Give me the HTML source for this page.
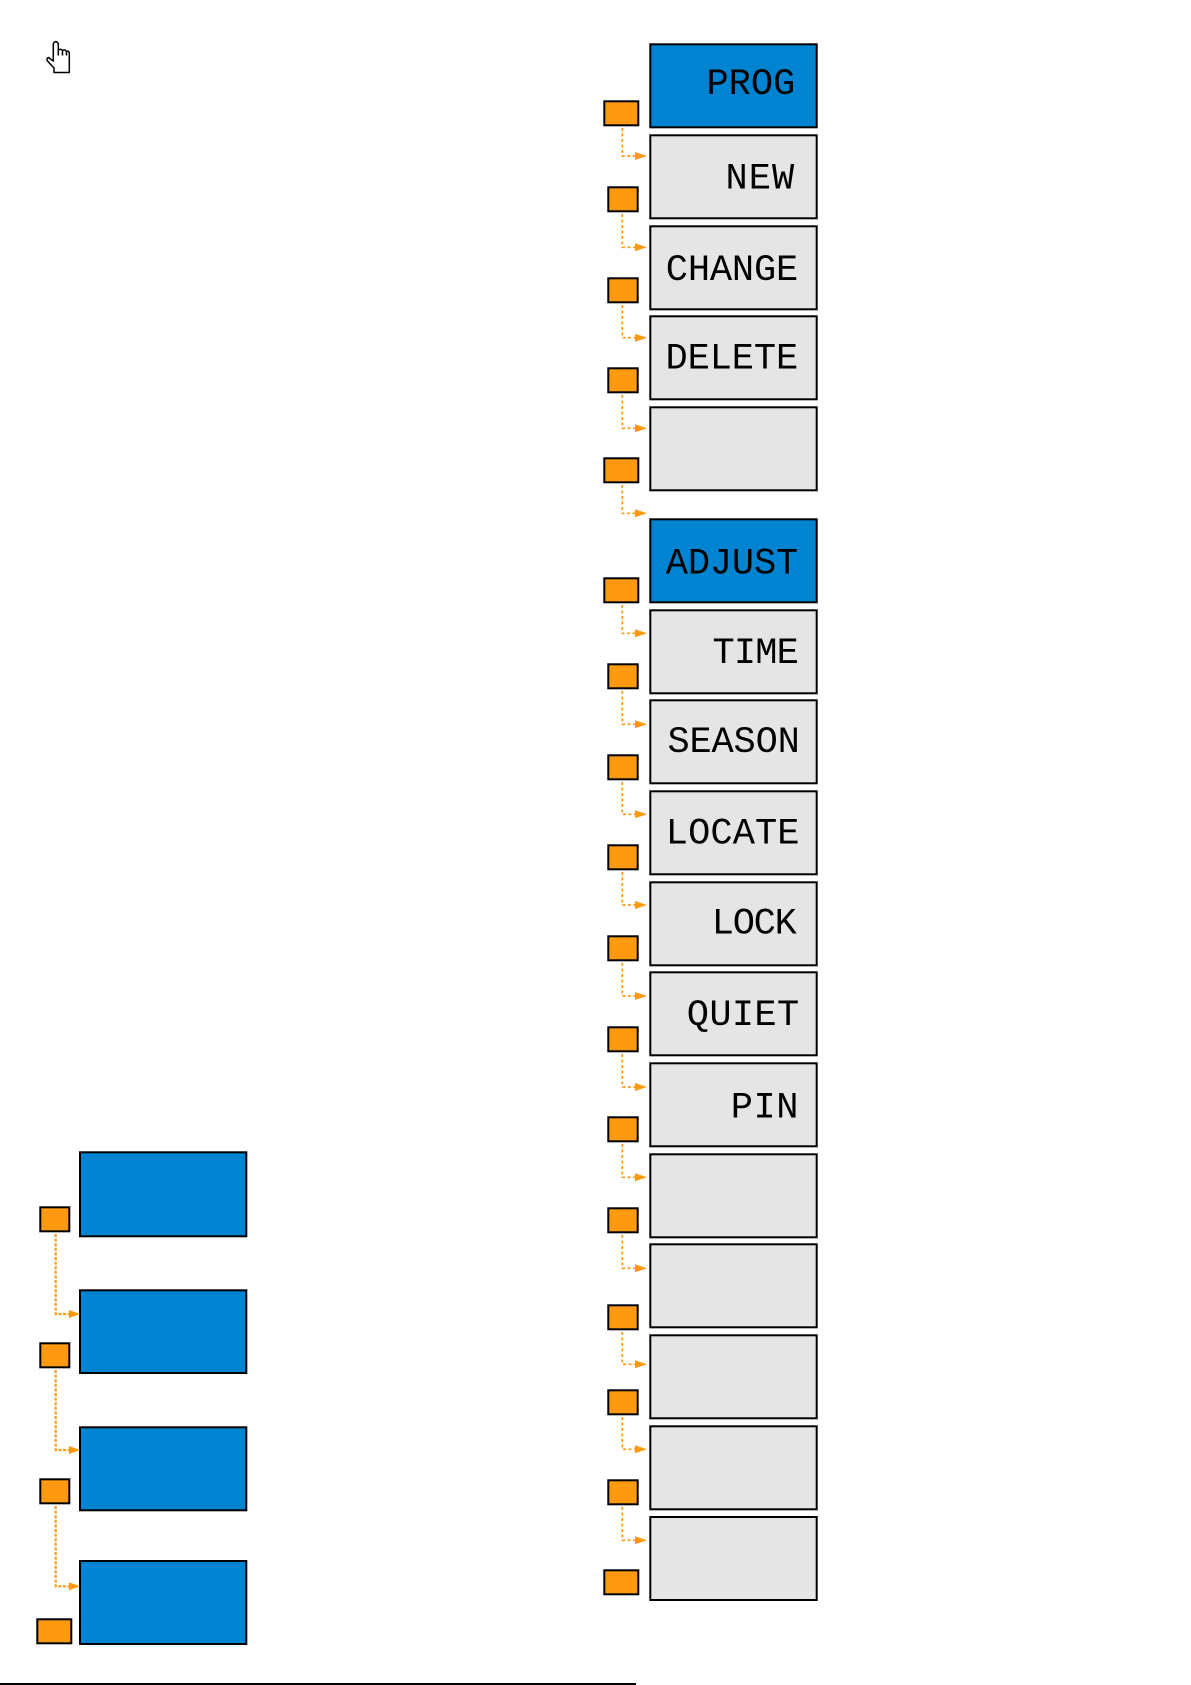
<!DOCTYPE html>
<html>
<head>
<meta charset="utf-8">
<style>
  html,body{margin:0;padding:0;background:#fff;}
  body{width:1191px;height:1685px;overflow:hidden;}
  svg{display:block;}
  .lcd{font-family:"Liberation Mono","DejaVu Sans Mono",monospace;font-size:37px;fill:#000;}
</style>
</head>
<body>
<svg width="1191" height="1685" viewBox="0 0 1191 1685" xmlns="http://www.w3.org/2000/svg">

  <!-- hand cursor -->
  <g fill="#fff" stroke="#000" stroke-width="1.5" stroke-linejoin="round">
    <path d="M54,72.5 L54,68 L47.5,61 Q46,58.5 48.5,57.5 L53.3,61 L53.3,43.5 Q55.8,39.8 58.3,43.5 L58.3,50.5 Q60.4,48 62.5,50.5 Q64.5,49 66.5,51.2 Q69.3,50.5 69.3,53.5 L69.3,72.5 Z"/>
    <path d="M62.5,50.5 L62.5,55.5 M66.5,51.2 L66.5,55.5 M58.3,50.5 L58.3,55.5" fill="none"/>
  </g>

  <!-- ===== Right column boxes ===== -->
  <g stroke="#000" stroke-width="2">
    <rect x="650.3" y="44.3" width="166.4" height="83" fill="#0083D0"/>
    <rect x="650.3" y="135.3" width="166.4" height="83" fill="#E5E5E5"/>
    <rect x="650.3" y="226.3" width="166.4" height="83" fill="#E5E5E5"/>
    <rect x="650.3" y="316.3" width="166.4" height="83" fill="#E5E5E5"/>
    <rect x="650.3" y="407.3" width="166.4" height="83" fill="#E5E5E5"/>
    <rect x="650.3" y="519.3" width="166.4" height="83" fill="#0083D0"/>
    <rect x="650.3" y="610.3" width="166.4" height="83" fill="#E5E5E5"/>
    <rect x="650.3" y="700.3" width="166.4" height="83" fill="#E5E5E5"/>
    <rect x="650.3" y="791.3" width="166.4" height="83" fill="#E5E5E5"/>
    <rect x="650.3" y="882.3" width="166.4" height="83" fill="#E5E5E5"/>
    <rect x="650.3" y="972.3" width="166.4" height="83" fill="#E5E5E5"/>
    <rect x="650.3" y="1063.3" width="166.4" height="83" fill="#E5E5E5"/>
    <rect x="650.3" y="1154.3" width="166.4" height="83" fill="#E5E5E5"/>
    <rect x="650.3" y="1244.3" width="166.4" height="83" fill="#E5E5E5"/>
    <rect x="650.3" y="1335.3" width="166.4" height="83" fill="#E5E5E5"/>
    <rect x="650.3" y="1426.3" width="166.4" height="83" fill="#E5E5E5"/>
    <rect x="650.3" y="1517" width="166.4" height="83" fill="#E5E5E5"/>
  </g>

  <!-- LCD labels -->
  <g class="lcd">
    <text x="706.5" y="94" textLength="88.7" lengthAdjust="spacing">PROG</text>
    <text x="725.5" y="188.3" textLength="68.7" lengthAdjust="spacing">NEW</text>
    <text x="665.8" y="280" textLength="132.4" lengthAdjust="spacing">CHANGE</text>
    <text x="665.5" y="368.7" textLength="132.7" lengthAdjust="spacing">DELETE</text>
    <text x="665.8" y="573.3" textLength="132.4" lengthAdjust="spacing">ADJUST</text>
    <text x="712.5" y="663" textLength="86.3" lengthAdjust="spacing">TIME</text>
    <text x="667.5" y="752" textLength="132.3" lengthAdjust="spacing">SEASON</text>
    <text x="665.8" y="843.7" textLength="133.7" lengthAdjust="spacing">LOCATE</text>
    <text x="711.8" y="933.5" textLength="85" lengthAdjust="spacing">LOCK</text>
    <text x="686.8" y="1025" textLength="112.4" lengthAdjust="spacing">QUIET</text>
    <text x="730.8" y="1117.3" textLength="67.7" lengthAdjust="spacing">PIN</text>
  </g>

  <!-- Right column connectors -->
  <g fill="none" stroke="#FF9912" stroke-width="1.7" stroke-dasharray="3,2.5">
    <path d="M622.3,128 V156 H636"/>
    <path d="M622.3,214 V247.3 H636"/>
    <path d="M622.3,305 V337.7 H636"/>
    <path d="M622.3,395 V428.3 H636"/>
    <path d="M622.3,485 V513.3 H636"/>
    <path d="M622.3,605 V633.3 H636"/>
    <path d="M622.3,691 V724.3 H636"/>
    <path d="M622.3,782 V814.3 H636"/>
    <path d="M622.3,872 V905 H636"/>
    <path d="M622.3,963 V996 H636"/>
    <path d="M622.3,1054 V1087 H636"/>
    <path d="M622.3,1144 V1177.3 H636"/>
    <path d="M622.3,1235 V1268.3 H636"/>
    <path d="M622.3,1332 V1364.3 H636"/>
    <path d="M622.3,1417 V1449.3 H636"/>
    <path d="M622.3,1507 V1540.3 H636"/>
  </g>
  <g fill="#FF9912">
    <polygon points="635,152 647,156 635,160"/>
    <polygon points="635,243.3 647,247.3 635,251.3"/>
    <polygon points="635,333.7 647,337.7 635,341.7"/>
    <polygon points="635,424.3 647,428.3 635,432.3"/>
    <polygon points="635,509.3 647,513.3 635,517.3"/>
    <polygon points="635,629.3 647,633.3 635,637.3"/>
    <polygon points="635,720.3 647,724.3 635,728.3"/>
    <polygon points="635,810.3 647,814.3 635,818.3"/>
    <polygon points="635,901 647,905 635,909"/>
    <polygon points="635,992 647,996 635,1000"/>
    <polygon points="635,1083 647,1087 635,1091"/>
    <polygon points="635,1173.3 647,1177.3 635,1181.3"/>
    <polygon points="635,1264.3 647,1268.3 635,1272.3"/>
    <polygon points="635,1360.3 647,1364.3 635,1368.3"/>
    <polygon points="635,1445.3 647,1449.3 635,1453.3"/>
    <polygon points="635,1536.3 647,1540.3 635,1544.3"/>
  </g>

  <!-- Right column orange boxes -->
  <g fill="#FF9912" stroke="#000" stroke-width="2">
    <rect x="604.3" y="101.3" width="34" height="24"/>
    <rect x="608.3" y="187.3" width="29.4" height="24"/>
    <rect x="608.3" y="278.3" width="29.4" height="24"/>
    <rect x="608.3" y="368.3" width="29.4" height="24"/>
    <rect x="604.3" y="458.3" width="34" height="24"/>
    <rect x="604.3" y="578.3" width="34" height="24"/>
    <rect x="608.3" y="664.3" width="29.4" height="24"/>
    <rect x="608.3" y="755.3" width="29.4" height="24"/>
    <rect x="608.3" y="845.3" width="29.4" height="24"/>
    <rect x="608.3" y="936.3" width="29.4" height="24"/>
    <rect x="608.3" y="1027.3" width="29.4" height="24"/>
    <rect x="608.3" y="1117.3" width="29.4" height="24"/>
    <rect x="608.3" y="1208.3" width="29.4" height="24"/>
    <rect x="608.3" y="1305.3" width="29.4" height="24"/>
    <rect x="608.3" y="1390.3" width="29.4" height="24"/>
    <rect x="608.3" y="1480.3" width="29.4" height="24"/>
    <rect x="604.3" y="1570.3" width="34" height="24"/>
  </g>

  <!-- ===== Left column ===== -->
  <g fill="#0083D0" stroke="#000" stroke-width="2">
    <rect x="80" y="1152.3" width="166.3" height="84"/>
    <rect x="80" y="1290.3" width="166.3" height="82.7"/>
    <rect x="80" y="1427.3" width="166.3" height="83"/>
    <rect x="80" y="1561" width="166.3" height="83"/>
  </g>

  <g fill="none" stroke="#FF9912" stroke-width="2.2" stroke-dasharray="3,1.6">
    <path d="M55.7,1234 V1314 H70"/>
    <path d="M55.7,1370 V1450 H70"/>
    <path d="M55.7,1506 V1586.3 H70"/>
  </g>
  <g fill="#FF9912">
    <polygon points="69,1310 80,1314 69,1318"/>
    <polygon points="69,1446 80,1450 69,1454"/>
    <polygon points="69,1582.3 80,1586.3 69,1590.3"/>
  </g>

  <g fill="#FF9912" stroke="#000" stroke-width="2">
    <rect x="40.3" y="1207.3" width="29" height="24"/>
    <rect x="40.3" y="1343.3" width="29" height="24"/>
    <rect x="40.3" y="1479.3" width="29" height="24"/>
    <rect x="37.3" y="1619.3" width="34" height="24"/>
  </g>

  <!-- bottom rule -->
  <rect x="0" y="1683" width="636" height="2" fill="#000"/>
</svg>
</body>
</html>
